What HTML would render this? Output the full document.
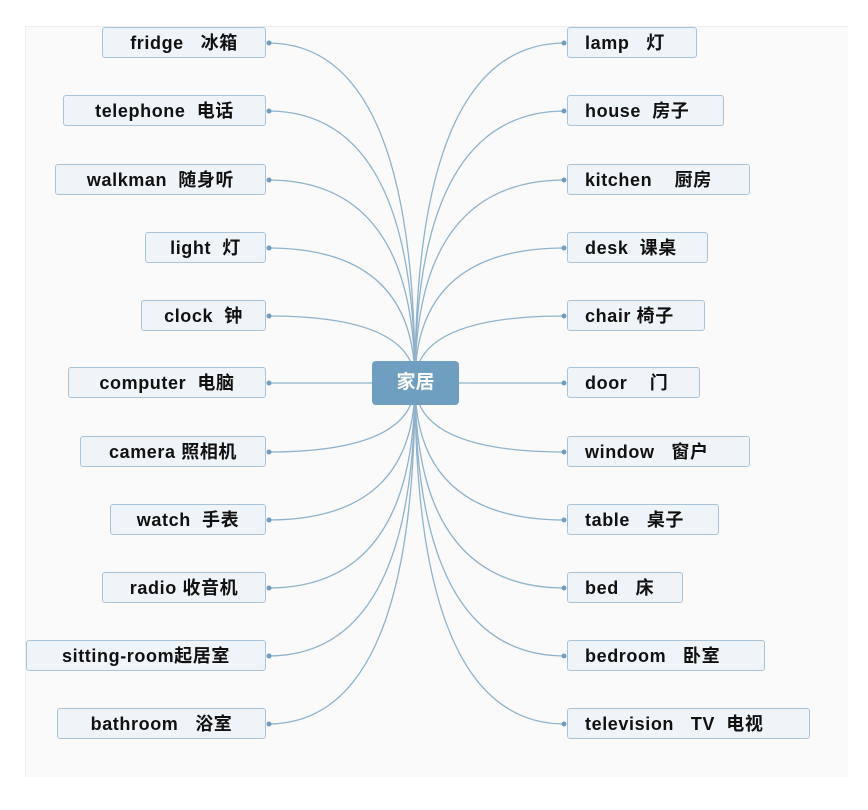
<!DOCTYPE html>
<html><head><meta charset="utf-8"><style>
body{margin:0;width:868px;height:810px;background:#fff;position:relative;overflow:hidden;font-family:"Liberation Sans","Noto Sans CJK SC",sans-serif}
.panel{position:absolute;left:25px;top:26px;width:822px;height:750px;background:#fafafa;border-left:1px solid #eee;border-top:1px solid #eee}
.b{position:absolute;height:31px;line-height:31px;background:#eef4f8;border:1.5px solid #a9c4d8;border-radius:3px;font-weight:bold;font-size:18px;letter-spacing:0.6px;color:#111;white-space:pre;box-sizing:border-box}
.l{text-align:center}
.r{padding-left:17px}
.c{position:absolute;left:372px;top:361px;width:87px;height:44px;background:#6f9fc0;border-radius:4px;color:#fff;font-weight:bold;font-size:19px;line-height:44px;text-align:center}
svg{position:absolute;left:0;top:0}
</style></head><body>
<div class="panel"></div>
<svg width="868" height="810" fill="none" stroke="#8fb3cc" stroke-width="1.3">
<path d="M415,383 Q415,43 268,43"/><path d="M415,383 Q415,111 268,111"/><path d="M415,383 Q415,180 268,180"/><path d="M415,383 Q415,248 268,248"/><path d="M415,383 Q415,316 268,316"/><path d="M415,383 L268,383"/><path d="M415,383 Q415,452 268,452"/><path d="M415,383 Q415,520 268,520"/><path d="M415,383 Q415,588 268,588"/><path d="M415,383 Q415,656 268,656"/><path d="M415,383 Q415,724 268,724"/>
<path d="M415,383 Q415,43 565,43"/><path d="M415,383 Q415,111 565,111"/><path d="M415,383 Q415,180 565,180"/><path d="M415,383 Q415,248 565,248"/><path d="M415,383 Q415,316 565,316"/><path d="M415,383 L565,383"/><path d="M415,383 Q415,452 565,452"/><path d="M415,383 Q415,520 565,520"/><path d="M415,383 Q415,588 565,588"/><path d="M415,383 Q415,656 565,656"/><path d="M415,383 Q415,724 565,724"/>
<g fill="#6f9fc0" stroke="none">
<circle cx="269" cy="43" r="2.5"/><circle cx="269" cy="111" r="2.5"/><circle cx="269" cy="180" r="2.5"/><circle cx="269" cy="248" r="2.5"/><circle cx="269" cy="316" r="2.5"/><circle cx="269" cy="383" r="2.5"/><circle cx="269" cy="452" r="2.5"/><circle cx="269" cy="520" r="2.5"/><circle cx="269" cy="588" r="2.5"/><circle cx="269" cy="656" r="2.5"/><circle cx="269" cy="724" r="2.5"/>
<circle cx="564" cy="43" r="2.5"/><circle cx="564" cy="111" r="2.5"/><circle cx="564" cy="180" r="2.5"/><circle cx="564" cy="248" r="2.5"/><circle cx="564" cy="316" r="2.5"/><circle cx="564" cy="383" r="2.5"/><circle cx="564" cy="452" r="2.5"/><circle cx="564" cy="520" r="2.5"/><circle cx="564" cy="588" r="2.5"/><circle cx="564" cy="656" r="2.5"/><circle cx="564" cy="724" r="2.5"/>
</g></svg>
<div class="c">家居</div>
<div class="b l" style="left:102px;top:27px;width:164px">fridge   冰箱</div>
<div class="b l" style="left:63px;top:95px;width:203px">telephone  电话</div>
<div class="b l" style="left:55px;top:164px;width:211px">walkman  随身听</div>
<div class="b l" style="left:145px;top:232px;width:121px">light  灯</div>
<div class="b l" style="left:141px;top:300px;width:125px">clock  钟</div>
<div class="b l" style="left:68px;top:367px;width:198px">computer  电脑</div>
<div class="b l" style="left:80px;top:436px;width:186px">camera 照相机</div>
<div class="b l" style="left:110px;top:504px;width:156px">watch  手表</div>
<div class="b l" style="left:102px;top:572px;width:164px">radio 收音机</div>
<div class="b l" style="left:26px;top:640px;width:240px">sitting-room起居室</div>
<div class="b l" style="left:57px;top:708px;width:209px">bathroom   浴室</div>
<div class="b r" style="left:567px;top:27px;width:130px">lamp   灯</div>
<div class="b r" style="left:567px;top:95px;width:157px">house  房子</div>
<div class="b r" style="left:567px;top:164px;width:183px">kitchen    厨房</div>
<div class="b r" style="left:567px;top:232px;width:141px">desk  课桌</div>
<div class="b r" style="left:567px;top:300px;width:138px">chair 椅子</div>
<div class="b r" style="left:567px;top:367px;width:133px">door    门</div>
<div class="b r" style="left:567px;top:436px;width:183px">window   窗户</div>
<div class="b r" style="left:567px;top:504px;width:152px">table   桌子</div>
<div class="b r" style="left:567px;top:572px;width:116px">bed   床</div>
<div class="b r" style="left:567px;top:640px;width:198px">bedroom   卧室</div>
<div class="b r" style="left:567px;top:708px;width:243px">television   TV  电视</div>
</body></html>
